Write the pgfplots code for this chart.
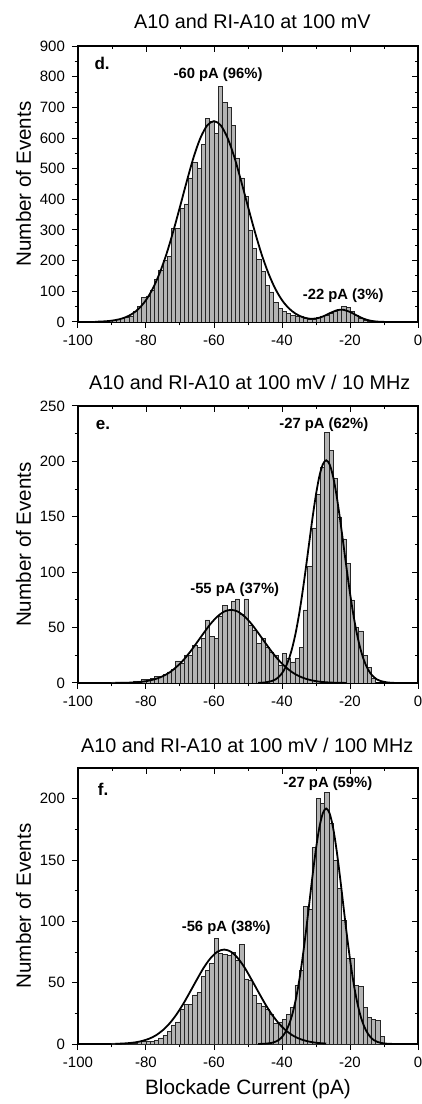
\documentclass[border=0pt]{standalone}
\usepackage{fontspec}
\setmainfont{Liberation Sans}
\usepackage{pgfplots}
\pgfplotsset{compat=1.18}

\definecolor{barfill}{RGB}{180,180,180}

\pgfplotsset{
  panel/.style={
    scale only axis, width=170pt, anchor=south west,
    xmin=-100, xmax=0, xtick={-100,-80,...,0}, minor x tick num=1,
    minor y tick num=1,
    tick align=outside, tick pos=left,
    axis line style={line width=0.7pt},
    major tick length=3pt, minor tick length=1.7pt,
    every tick/.style={black, line width=0.5pt},
    tick label style={font=\fontsize{7.5}{8}\selectfont},
    /pgf/number format/assume math mode=true,
    ylabel={Number of Events},
    ylabel style={at={(axis description cs:-0.16,0.5)}, anchor=center,
      font=\fontsize{10.3}{12}\selectfont},
  },
  mirror/.style={
    scale only axis, width=170pt, anchor=south west,
    xmin=-100, xmax=0, xtick={-100,-80,...,0}, minor x tick num=1,
    minor y tick num=1,
    tick align=inside, tick pos=right,
    xticklabels={}, yticklabels={},
    axis line style={draw=none},
    major tick length=3pt, minor tick length=1.7pt,
    every tick/.style={black, line width=0.5pt},
  },
  hist/.style={ybar interval, fill=barfill, draw=black!85, line width=0.25pt},
  fit/.style={black, line width=0.9pt, smooth},
}
\tikzset{
  peak/.style={font=\bfseries\fontsize{7.4}{8}\selectfont},
  plabel/.style={font=\bfseries\fontsize{8.5}{9}\selectfont, anchor=west},
  ptitle/.style={anchor=base west, font=\fontsize{9.9}{12}\selectfont},
}

\begin{document}
\begin{tikzpicture}
\path[use as bounding box] (0,0) rectangle (211pt,552pt);

% ---------------- panel d ----------------
\node[ptitle] at (63.5pt,537.5pt) {A10 and RI-A10 at 100 mV};
\begin{axis}[panel, at={(39pt,391pt)}, height=138pt,
  ymin=0, ymax=900, ytick={0,100,...,900}]
\addplot[hist] coordinates {
(-95,2) (-93.75,3) (-92.5,4) (-91.25,5) (-90,6) (-88.75,8) (-87.5,12) (-86.25,16)
(-85,20) (-83.75,35) (-82.5,50) (-81.25,80) (-80,85) (-78.75,105) (-77.5,140) (-76.25,170)
(-75,200) (-73.75,215) (-72.5,305) (-71.25,305) (-70,370) (-68.75,385) (-67.5,470) (-66.25,520)
(-65,500) (-63.75,580) (-62.5,665) (-61.25,655) (-60,615) (-58.75,768) (-57.5,715) (-56.25,700)
(-55,640) (-53.75,535) (-52.5,470) (-51.25,410) (-50,300) (-48.75,240) (-47.5,205) (-46.25,165)
(-45,120) (-43.75,98) (-42.5,65) (-41.25,45) (-40,35) (-38.75,28) (-37.5,22) (-36.25,18)
(-35,20) (-33.75,12) (-32.5,8) (-31.25,10) (-30,14) (-28.75,20) (-27.5,22) (-26.25,28)
(-25,35) (-23.75,42) (-22.5,50) (-21.25,48) (-20,35) (-18.75,22) (-17.5,12) (-16.25,6)
(-15,3) (-13.75,3)
};
\addplot[fit] coordinates {
(-95,0.7) (-92,2.2) (-90,4.5) (-88,8.5) (-86,15.5) (-84,26.9) (-82,44.8) (-80,71.4)
(-78,109) (-76,159) (-74,221) (-72,295) (-70,376) (-68,459) (-66,537) (-64,600)
(-62,641) (-60,655) (-58,641) (-56,600) (-54,537) (-52,459) (-50,376) (-48,295)
(-46,221) (-44,159) (-42,109) (-40,71.4) (-38,44.8) (-36,27) (-34,16.1) (-32,10.9)
(-30,11.4) (-28,17.8) (-26,28.4) (-24,37.8) (-23,40) (-22,39.9) (-20,32.9) (-18,21.2)
(-16,10.7) (-14,4.2) (-12,1.3) (-10,0.3) (-8,0.05)
};
\node[peak] at (axis cs:-58.8,805) {-60 pA (96\%)};
\node[peak] at (axis cs:-22,85) {-22 pA (3\%)};
\node[plabel] at (axis cs:-97.2,843) {d.};
\end{axis}
\begin{axis}[mirror, at={(39pt,391pt)}, height=138pt,
  ymin=0, ymax=900, ytick={0,100,...,900}]
\end{axis}

% ---------------- panel e ----------------
\node[ptitle] at (41pt,357pt) {A10 and RI-A10 at 100 mV / 10 MHz};
\begin{axis}[panel, at={(39pt,210.5pt)}, height=138.5pt,
  ymin=0, ymax=250, ytick={0,50,...,250}]
\addplot[hist] coordinates {
(-90,1) (-88.75,0) (-87.5,1) (-86.25,1) (-85,1) (-83.75,2) (-82.5,2) (-81.25,3)
(-80,3) (-78.75,4) (-77.5,6) (-76.25,6) (-75,8) (-73.75,10) (-72.5,12) (-71.25,20)
(-70,18) (-68.75,25) (-67.5,25) (-66.25,34) (-65,32) (-63.75,40) (-62.5,57) (-61.25,42)
(-60,40) (-58.75,60) (-57.5,70) (-56.25,66) (-55,74) (-53.75,76) (-52.5,62) (-51.25,76)
(-50,52) (-48.75,48) (-47.5,36) (-46.25,40) (-45,32) (-43.75,28) (-42.5,25) (-41.25,16)
(-40,27) (-38.75,22) (-37.5,19) (-36.25,22) (-35,32) (-33.75,66) (-32.5,105) (-31.25,140)
(-30,170) (-28.75,195) (-27.5,226) (-26.25,210) (-25,185) (-23.75,150) (-22.5,130) (-21.25,108)
(-20,75) (-18.75,50) (-17.5,47) (-16.25,25) (-15,14) (-13.75,4) (-12.5,4)
};
\addplot[fit] coordinates {
(-89,0.1) (-85,0.3) (-83,0.64) (-81,1.2) (-79,2.2) (-77,3.8) (-75,6.2) (-73,9.7)
(-71,14.6) (-69,20.7) (-67,28.2) (-65,36.6) (-63,45.2) (-61,53.4) (-59,60) (-57,64.5)
(-55,66) (-53,64.5) (-51,60) (-49,53.4) (-47,45.2) (-45,36.6) (-43,28.2) (-41,20.7)
(-39,14.6) (-37,9.7) (-35,6.2) (-33,3.8) (-31,2.2) (-29,1.2) (-27,0.64) (-25,0.3) (-21,0.05)
};
\addplot[fit] coordinates {
(-47,0.12) (-45,0.5) (-43,1.8) (-42,3.1) (-41,5.4) (-40,8.8) (-39,14) (-38,21.4)
(-37,31.6) (-36,44.9) (-35,61.5) (-34,81.2) (-33,103.3) (-32,126.6) (-31,149.5) (-30,170.2)
(-29,186.7) (-28,197.3) (-27,201) (-26,197.3) (-25,186.7) (-24,170.2) (-23,149.5) (-22,126.6)
(-21,103.3) (-20,81.2) (-19,61.5) (-18,44.9) (-17,31.6) (-16,21.4) (-15,14) (-14,8.8)
(-13,5.4) (-12,3.1) (-11,1.8) (-9,0.5) (-7,0.12)
};
\node[peak] at (axis cs:-27.7,233) {-27 pA (62\%)};
\node[peak] at (axis cs:-53.9,84) {-55 pA (37\%)};
\node[plabel] at (axis cs:-96.8,233) {e.};
\end{axis}
\begin{axis}[mirror, at={(39pt,210.5pt)}, height=138.5pt,
  ymin=0, ymax=250, ytick={0,50,...,250}]
\end{axis}

% ---------------- panel f ----------------
\node[ptitle] at (37pt,175.6pt) {A10 and RI-A10 at 100 mV / 100 MHz};
\begin{axis}[panel, at={(39pt,30pt)}, height=138pt,
  ymin=0, ymax=225, ytick={0,50,...,200},
  xlabel={Blockade Current (pA)},
  xlabel style={font=\fontsize{10.4}{12}\selectfont, yshift=1pt}]
\addplot[hist] coordinates {
(-90,1) (-88.75,1) (-87.5,1) (-86.25,1) (-85,1) (-83.75,1) (-82.5,2) (-81.25,2)
(-80,2) (-78.75,2) (-77.5,3) (-76.25,5) (-75,7) (-73.75,10) (-72.5,15) (-71.25,18)
(-70,28) (-68.75,32) (-67.5,32) (-66.25,40) (-65,42) (-63.75,55) (-62.5,60) (-61.25,66)
(-60,86) (-58.75,74) (-57.5,73) (-56.25,72) (-55,75) (-53.75,68) (-52.5,81) (-51.25,53)
(-50,52) (-48.75,40) (-47.5,33) (-46.25,31) (-45,28) (-43.75,24) (-42.5,17) (-41.25,18)
(-40,20) (-38.75,24) (-37.5,30) (-36.25,48) (-35,60) (-33.75,112) (-32.5,110) (-31.25,160)
(-30,200) (-28.75,196) (-27.5,205) (-26.25,180) (-25,150) (-23.75,127) (-22.5,101) (-21.25,70)
(-20,70) (-18.75,48) (-17.5,47) (-16.25,30) (-15,22) (-13.75,20) (-12.5,19) (-11.25,6)
(-10,6)
};
\addplot[fit] coordinates {
(-89,0.17) (-87,0.35) (-85,0.75) (-83,1.4) (-81,2.6) (-79,4.4) (-77,7.2) (-75,11.4)
(-73,17) (-71,24.2) (-69,32.9) (-67,42.7) (-65,52.7) (-63,62.3) (-61,70) (-59,75.2)
(-57,77) (-55,75.2) (-53,70) (-51,62.3) (-49,52.7) (-47,42.7) (-45,32.9) (-43,24.2)
(-41,17) (-39,11.4) (-37,7.2) (-35,4.4) (-33,2.6) (-31,1.4) (-29,0.75) (-27,0.35)
};
\addplot[fit] coordinates {
(-47,0.05) (-45,0.22) (-43,0.93) (-42,1.8) (-41,3.2) (-40,5.7) (-39,9.6) (-38,15.5)
(-37,23.9) (-36,35.5) (-35,50.6) (-34,69.2) (-33,90.7) (-32,114.1) (-31,137.6) (-30,159.2)
(-29,176.7) (-28,188) (-27,192) (-26,188) (-25,176.7) (-24,159.2) (-23,137.6) (-22,114.1)
(-21,90.7) (-20,69.2) (-19,50.6) (-18,35.5) (-17,23.9) (-16,15.5) (-15,9.6) (-14,5.7)
(-13,3.2) (-12,1.8) (-11,0.93) (-9,0.22) (-7,0.05)
};
\node[peak] at (axis cs:-26.5,212) {-27 pA (59\%)};
\node[peak] at (axis cs:-56.4,94.5) {-56 pA (38\%)};
\node[plabel] at (axis cs:-96.2,207.6) {f.};
\end{axis}
\begin{axis}[mirror, at={(39pt,30pt)}, height=138pt,
  ymin=0, ymax=225, ytick={0,50,...,200}]
\end{axis}
\end{tikzpicture}
\end{document}
